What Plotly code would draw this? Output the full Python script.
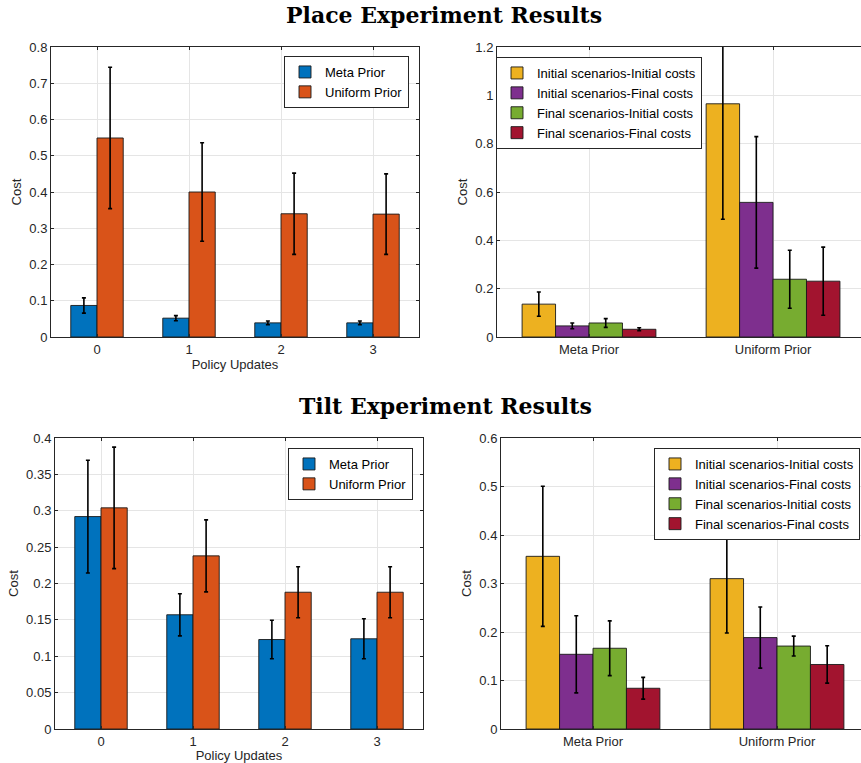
import plotly.graph_objects as go

# ---------------- data ----------------
policy_updates = [0, 1, 2, 3]
priors = ["Meta Prior", "Uniform Prior"]
scenario_names = ["Initial scenarios-Initial costs", "Initial scenarios-Final costs",
                  "Final scenarios-Initial costs", "Final scenarios-Final costs"]

# Place experiment, cost vs policy updates
place_meta = [0.087, 0.052, 0.039, 0.039]
place_meta_err = [0.021, 0.007, 0.005, 0.005]
place_uniform = [0.549, 0.400, 0.340, 0.339]
place_uniform_err = [0.195, 0.136, 0.112, 0.111]

# Place experiment, scenarios (index 0 = Meta Prior, 1 = Uniform Prior)
place_sc_ii = [0.136, 0.965]
place_sc_ii_err = [0.050, 0.478]
place_sc_if = [0.046, 0.557]
place_sc_if_err = [0.012, 0.272]
place_sc_fi = [0.058, 0.239]
place_sc_fi_err = [0.018, 0.120]
place_sc_ff = [0.032, 0.231]
place_sc_ff_err = [0.006, 0.141]

# Tilt experiment, cost vs policy updates
tilt_meta = [0.292, 0.157, 0.123, 0.124]
tilt_meta_err = [0.0775, 0.029, 0.0265, 0.0275]
tilt_uniform = [0.304, 0.238, 0.188, 0.188]
tilt_uniform_err = [0.0835, 0.0495, 0.035, 0.035]

# Tilt experiment, scenarios
tilt_sc_ii = [0.356, 0.310]
tilt_sc_ii_err = [0.1445, 0.112]
tilt_sc_if = [0.154, 0.1885]
tilt_sc_if_err = [0.0795, 0.063]
tilt_sc_fi = [0.1665, 0.171]
tilt_sc_fi_err = [0.0565, 0.0205]
tilt_sc_ff = [0.084, 0.133]
tilt_sc_ff_err = [0.0225, 0.0385]

# ---------------- style ----------------
C_BLUE, C_ORANGE = "#0072BD", "#D95319"
C_SC = ["#EDB120", "#7E2F8E", "#77AC30", "#A2142F"]
AX = "#262626"
GRID = "#E5E5E5"
FONT = "Liberation Sans"
FS = 13

fig = go.Figure()


def add_bar(x, y, err, color, name, xa, ya, legend):
    fig.add_trace(go.Bar(
        x=x, y=y, name=name, marker=dict(color=color, line=dict(color="#1a1a1a", width=0.9)),
        error_y=dict(type="data", array=err, visible=True, color="black", thickness=1.6, width=2),
        xaxis=xa, yaxis=ya, legend=legend,
    ))


# Place, left
add_bar(policy_updates, place_meta, place_meta_err, C_BLUE, "Meta Prior", "x", "y", "legend")
add_bar(policy_updates, place_uniform, place_uniform_err, C_ORANGE, "Uniform Prior", "x", "y", "legend")
# Place, right
cat_pos = [1, 2]
for vals, errs, col, nm in zip([place_sc_ii, place_sc_if, place_sc_fi, place_sc_ff],
                               [place_sc_ii_err, place_sc_if_err, place_sc_fi_err, place_sc_ff_err],
                               C_SC, scenario_names):
    add_bar(cat_pos, vals, errs, col, nm, "x2", "y2", "legend2")
# Tilt, left
add_bar(policy_updates, tilt_meta, tilt_meta_err, C_BLUE, "Meta Prior", "x3", "y3", "legend3")
add_bar(policy_updates, tilt_uniform, tilt_uniform_err, C_ORANGE, "Uniform Prior", "x3", "y3", "legend3")
# Tilt, right
for vals, errs, col, nm in zip([tilt_sc_ii, tilt_sc_if, tilt_sc_fi, tilt_sc_ff],
                               [tilt_sc_ii_err, tilt_sc_if_err, tilt_sc_fi_err, tilt_sc_ff_err],
                               C_SC, scenario_names):
    add_bar(cat_pos, vals, errs, col, nm, "x4", "y4", "legend4")

tickfont = dict(family=FONT, size=FS, color=AX)
titlefont = dict(family=FONT, size=FS, color=AX)


def xax(domain, rng, anchor, tickvals, ticktext, title):
    return dict(domain=domain, range=rng, anchor=anchor, tickvals=tickvals, ticktext=ticktext,
                showline=True, linecolor=AX, linewidth=1, mirror="ticks", automargin=False,
                ticks="inside", ticklen=3, tickcolor=AX, showgrid=True, gridcolor=GRID,
                tickfont=tickfont, zeroline=False,
                title=dict(text=title, font=titlefont, standoff=0))


def yax(domain, rng, anchor, dtick, mirror):
    return dict(domain=domain, range=rng, anchor=anchor, dtick=dtick, automargin=False,
                showline=True, linecolor=AX, linewidth=1, mirror=mirror,
                ticks="inside", ticklen=3, tickcolor=AX, showgrid=True, gridcolor=GRID,
                tickfont=tickfont, zeroline=False,
                title=dict(text="Cost", font=titlefont, standoff=4))


top_y = [1 - 337 / 763, 1 - 47 / 763]
bot_y = [1 - 729 / 763, 1 - 438 / 763]

fig.update_layout(
    width=861, height=763,
    margin=dict(l=0, r=0, t=0, b=0, autoexpand=False),
    paper_bgcolor="white", plot_bgcolor="white",
    barmode="group",
    font=dict(family=FONT, size=FS, color=AX),
    xaxis=xax([51 / 861, 419 / 861], [-0.5, 3.5], "y", policy_updates,
              [str(v) for v in policy_updates], "Policy Updates"),
    yaxis=yax(top_y, [0, 0.8], "x", 0.1, "ticks"),
    xaxis2=xax([497 / 861, 1.0], [0.5, 2.478], "y2", cat_pos, priors, ""),
    yaxis2=yax(top_y, [0, 1.2], "x2", 0.2, False),
    xaxis3=xax([55 / 861, 423 / 861], [-0.5, 3.5], "y3", policy_updates,
               [str(v) for v in policy_updates], "Policy Updates"),
    yaxis3=yax(bot_y, [0, 0.4], "x3", 0.05, "ticks"),
    xaxis4=xax([501 / 861, 1.0], [0.5, 2.4565], "y4", cat_pos, priors, ""),
    yaxis4=yax(bot_y, [0, 0.6], "x4", 0.1, False),
    showlegend=True,
)

leg_common = dict(bgcolor="white", bordercolor=AX, borderwidth=1,
                  font=dict(family=FONT, size=FS, color="black"),
                  xanchor="right", yanchor="top", tracegroupgap=0, traceorder="normal",
                  itemwidth=30)
fig.update_layout(
    legend=dict(x=409 / 861, y=1 - 56 / 763, **leg_common),
    legend2=dict(x=702 / 861, y=1 - 57 / 763, **leg_common),
    legend3=dict(x=413 / 861, y=1 - 448 / 763, **leg_common),
    legend4=dict(x=860 / 861, y=1 - 448 / 763, **leg_common),
)
# MATLAB-like group widths
fig.update_layout(bargap=0.43, bargroupgap=0)
for panel in ("x2", "x4"):
    for i, tr in enumerate([t for t in fig.data if t.xaxis == panel]):
        tr.width = 0.1818
        tr.offset = -0.3636 + i * 0.1818

title_font = dict(family="DejaVu Serif", size=22, color="black", weight="bold")
fig.add_annotation(text="Place Experiment Results", x=444 / 861, y=1 - 15 / 763, xref="paper",
                   yref="paper", showarrow=False, font=title_font, xanchor="center", yanchor="middle")
fig.add_annotation(text="Tilt Experiment Results", x=445 / 861, y=1 - 406 / 763, xref="paper",
                   yref="paper", showarrow=False, font=title_font, xanchor="center", yanchor="middle")

fig.write_html(
    "out.html",
    config={"displayModeBar": False},
    post_script="document.body.style.margin='0';document.body.style.overflow='hidden';",
)
